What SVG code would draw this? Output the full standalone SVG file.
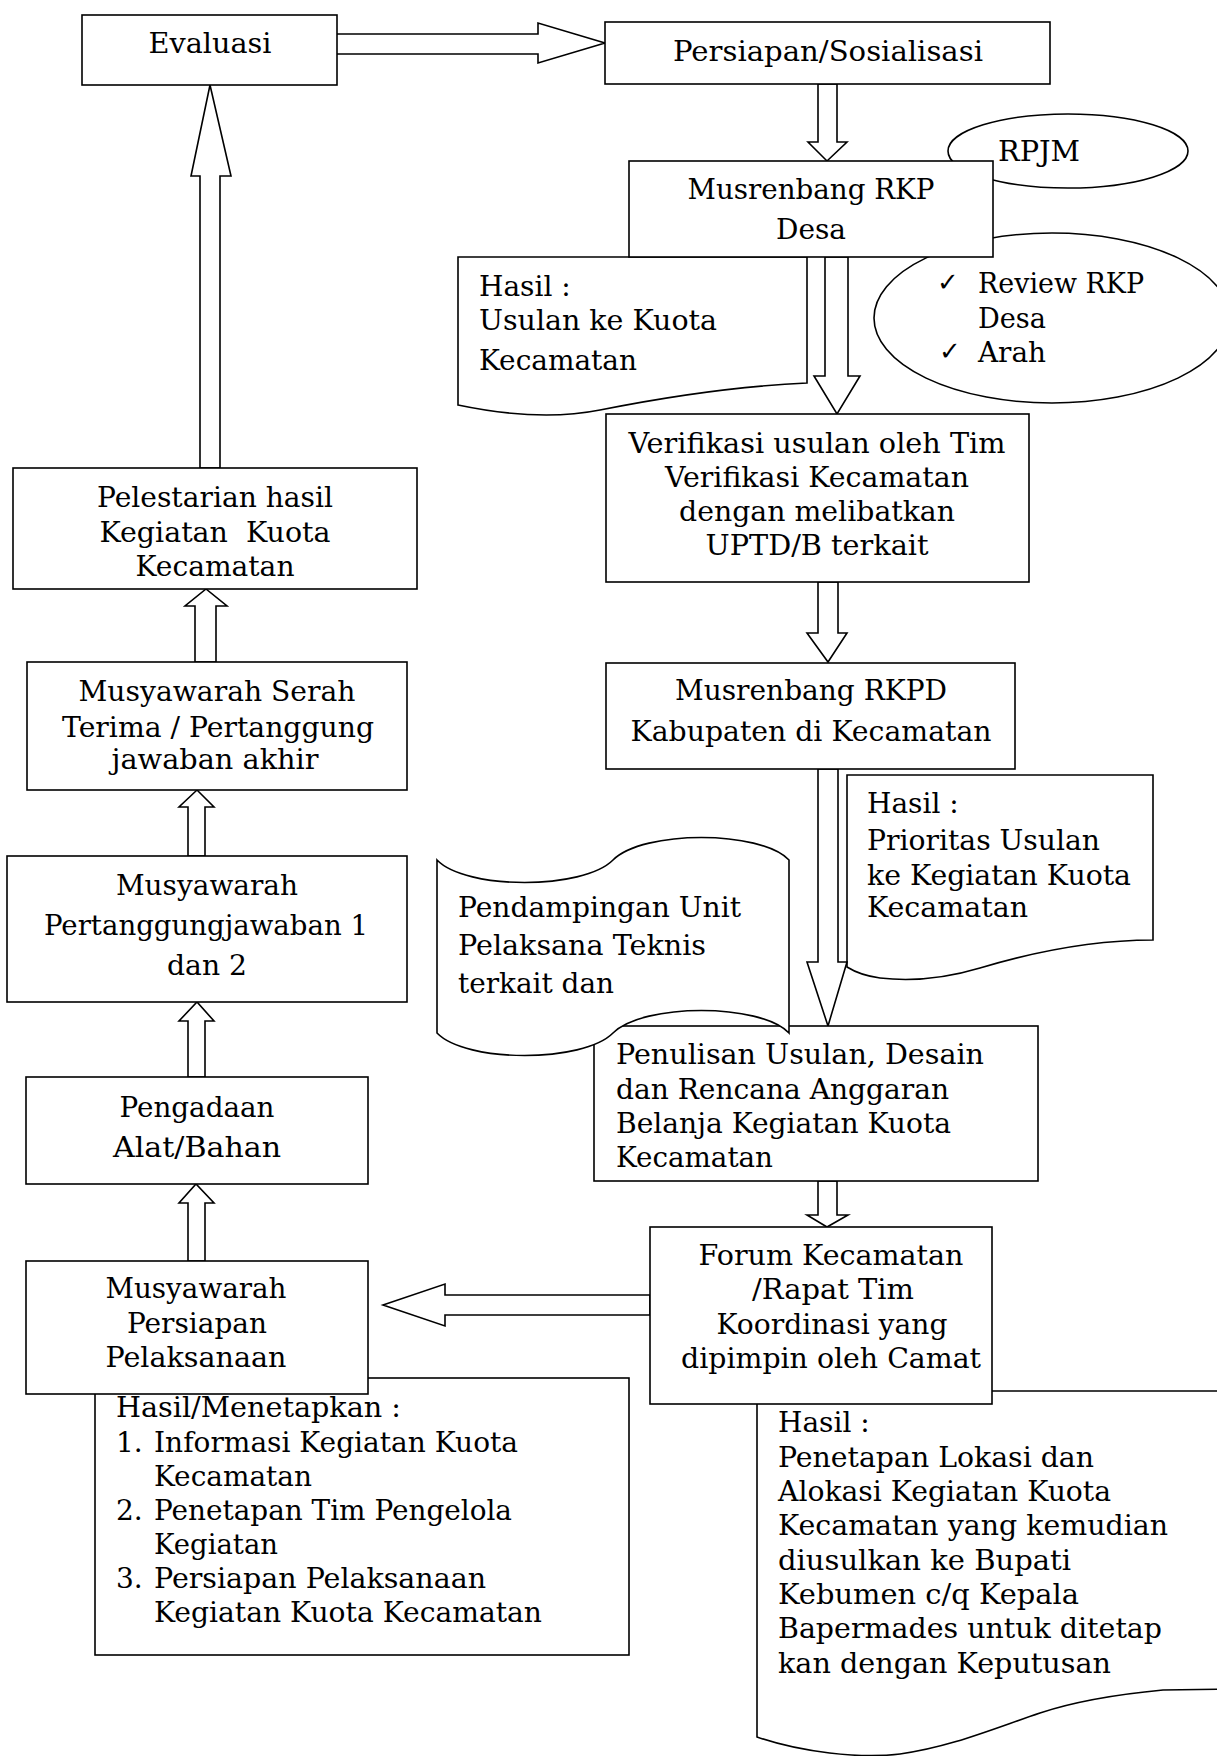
<svg xmlns="http://www.w3.org/2000/svg" width="1217" height="1756" viewBox="0 0 1217 1756">
<style>
.b{fill:#fff;stroke:#000;stroke-width:1.6}
.t{font-family:"DejaVu Serif","Liberation Serif",serif;font-size:28px;fill:#000;white-space:pre}
.c{text-anchor:middle}
.ck{font-family:"DejaVu Sans",sans-serif;font-size:26px;fill:#000}
</style>
<rect x="0" y="0" width="1217" height="1756" fill="#fff"/>

<!-- background shapes -->
<g id="rpjm">
<ellipse class="b" cx="1068" cy="151" rx="120" ry="37"/>
<text class="t" x="998" y="161" textLength="82" lengthAdjust="spacingAndGlyphs">RPJM</text>
</g>
<g id="review">
<ellipse class="b" cx="1052" cy="318" rx="178" ry="85"/>
<text class="ck" x="937" y="291">✓</text>
<text class="t" x="978" y="293" textLength="166" lengthAdjust="spacingAndGlyphs">Review RKP</text>
<text class="t" x="978" y="328" textLength="68" lengthAdjust="spacingAndGlyphs">Desa</text>
<text class="ck" x="939" y="360" font-size="22">✓</text>
<text class="t" x="978" y="362" textLength="68" lengthAdjust="spacingAndGlyphs">Arah</text>
</g>
<g id="hasil-usulan">
<path class="b" d="M458,257 H807 V383 C740,386 660,398 600,410 C565,417 520,418 458,405 Z"/>
<text class="t" x="479" y="296">Hasil :</text>
<text class="t" x="479" y="330" textLength="238" lengthAdjust="spacingAndGlyphs">Usulan ke Kuota</text>
<text class="t" x="479" y="370" textLength="158" lengthAdjust="spacingAndGlyphs">Kecamatan</text>
</g>
<g id="hasil-prioritas">
<path class="b" d="M847,775 H1153 V940 C1100,940 1040,950 980,968 C950,977 915,982 880,978 C865,976 855,972 847,967 Z"/>
<text class="t" x="867" y="813">Hasil :</text>
<text class="t" x="867" y="850" textLength="233" lengthAdjust="spacingAndGlyphs">Prioritas Usulan</text>
<text class="t" x="867" y="885" textLength="264" lengthAdjust="spacingAndGlyphs">ke Kegiatan Kuota</text>
<text class="t" x="867" y="917" textLength="161" lengthAdjust="spacingAndGlyphs">Kecamatan</text>
</g>
<g id="hasil-menetapkan">
<rect class="b" x="95" y="1378" width="534" height="277"/>
<text class="t" x="116" y="1417" textLength="285" lengthAdjust="spacingAndGlyphs">Hasil/Menetapkan :</text>
<text class="t" x="116" y="1452">1.</text>
<text class="t" x="154" y="1452" textLength="364" lengthAdjust="spacingAndGlyphs">Informasi Kegiatan Kuota</text>
<text class="t" x="154" y="1486" textLength="158" lengthAdjust="spacingAndGlyphs">Kecamatan</text>
<text class="t" x="116" y="1520">2.</text>
<text class="t" x="154" y="1520" textLength="358" lengthAdjust="spacingAndGlyphs">Penetapan Tim Pengelola</text>
<text class="t" x="154" y="1554" textLength="124" lengthAdjust="spacingAndGlyphs">Kegiatan</text>
<text class="t" x="116" y="1588">3.</text>
<text class="t" x="154" y="1588" textLength="332" lengthAdjust="spacingAndGlyphs">Persiapan Pelaksanaan</text>
<text class="t" x="154" y="1622" textLength="388" lengthAdjust="spacingAndGlyphs">Kegiatan Kuota Kecamatan</text>
</g>
<g id="hasil-forum">
<path class="b" d="M757,1391 H1235 V1689 L1163,1690 C1110,1695 1070,1703 1040,1713 C990,1730 950,1747 900,1754 C860,1759 800,1752 757,1737 Z"/>
<text class="t" x="778" y="1432">Hasil :</text>
<text class="t" x="778" y="1467" textLength="316" lengthAdjust="spacingAndGlyphs">Penetapan Lokasi dan</text>
<text class="t" x="778" y="1501" textLength="333" lengthAdjust="spacingAndGlyphs">Alokasi Kegiatan Kuota</text>
<text class="t" x="778" y="1535" textLength="390" lengthAdjust="spacingAndGlyphs">Kecamatan yang kemudian</text>
<text class="t" x="778" y="1570" textLength="293" lengthAdjust="spacingAndGlyphs">diusulkan ke Bupati</text>
<text class="t" x="778" y="1604" textLength="301" lengthAdjust="spacingAndGlyphs">Kebumen c/q Kepala</text>
<text class="t" x="778" y="1638" textLength="384" lengthAdjust="spacingAndGlyphs">Bapermades untuk ditetap</text>
<text class="t" x="778" y="1673" textLength="333" lengthAdjust="spacingAndGlyphs">kan dengan Keputusan</text>
</g>

<!-- connectors -->
<g id="connectors">
<polygon class="b" points="336,34 538,34 538,23 605,43 538,63 538,54 336,54"/>
<polygon class="b" points="818,84 837,84 837,142 847,142 827,161 808,142 818,142"/>
<polygon class="b" points="825,257 848,257 848,376 860,376 837,414 814,376 825,376"/>
<polygon class="b" points="818,582 838,582 838,633 847,633 828,662 807,633 818,633"/>
<polygon class="b" points="818,769 838,769 838,962 847,962 828,1026 807,962 818,962"/>
<polygon class="b" points="818,1181 837,1181 837,1215 848,1215 827,1227 807,1215 818,1215"/>
<polygon class="b" points="650,1295 650,1315 445,1315 445,1326 383,1305 445,1284 445,1295"/>
<polygon class="b" points="200,468 200,176 191,176 210,85 231,176 220,176 220,468"/>
<polygon class="b" points="195,662 195,606 185,606 206,589 227,606 216,606 216,662"/>
<polygon class="b" points="188,856 188,807 179,807 197,790 214,807 205,807 205,856"/>
<polygon class="b" points="188,1077 188,1021 179,1021 197,1002 214,1021 205,1021 205,1077"/>
<polygon class="b" points="188,1261 188,1203 179,1203 196,1184 214,1203 205,1203 205,1261"/>
</g>

<!-- nodes -->
<g id="evaluasi">
<rect class="b" x="82" y="15" width="255" height="70"/>
<text class="t c" x="210" y="53" textLength="123" lengthAdjust="spacingAndGlyphs">Evaluasi</text>
</g>
<g id="persiapan">
<rect class="b" x="605" y="22" width="445" height="62"/>
<text class="t c" x="828" y="61" textLength="310" lengthAdjust="spacingAndGlyphs">Persiapan/Sosialisasi</text>
</g>
<g id="musrenbang-rkp">
<rect class="b" x="629" y="161" width="364" height="96"/>
<text class="t c" x="811" y="199" textLength="247" lengthAdjust="spacingAndGlyphs">Musrenbang RKP</text>
<text class="t c" x="811" y="239" textLength="70" lengthAdjust="spacingAndGlyphs">Desa</text>
</g>
<g id="verifikasi">
<rect class="b" x="606" y="414" width="423" height="168"/>
<text class="t c" x="817" y="453" textLength="377" lengthAdjust="spacingAndGlyphs">Verifikasi usulan oleh Tim</text>
<text class="t c" x="817" y="487" textLength="304" lengthAdjust="spacingAndGlyphs">Verifikasi Kecamatan</text>
<text class="t c" x="817" y="521" textLength="276" lengthAdjust="spacingAndGlyphs">dengan melibatkan</text>
<text class="t c" x="817" y="555" textLength="223" lengthAdjust="spacingAndGlyphs">UPTD/B terkait</text>
</g>
<g id="musrenbang-rkpd">
<rect class="b" x="606" y="663" width="409" height="106"/>
<text class="t c" x="811" y="700" textLength="272" lengthAdjust="spacingAndGlyphs">Musrenbang RKPD</text>
<text class="t c" x="811" y="741" textLength="361" lengthAdjust="spacingAndGlyphs">Kabupaten di Kecamatan</text>
</g>
<g id="penulisan">
<rect class="b" x="594" y="1026" width="444" height="155"/>
<text class="t" x="616" y="1064" textLength="368" lengthAdjust="spacingAndGlyphs">Penulisan Usulan, Desain</text>
<text class="t" x="616" y="1099" textLength="333" lengthAdjust="spacingAndGlyphs">dan Rencana Anggaran</text>
<text class="t" x="616" y="1133" textLength="335" lengthAdjust="spacingAndGlyphs">Belanja Kegiatan Kuota</text>
<text class="t" x="616" y="1167" textLength="157" lengthAdjust="spacingAndGlyphs">Kecamatan</text>
</g>
<g id="pendampingan">
<path class="b" d="M437,860 C466,890 583,890 613,860 C643,830 760,830 789,860 V1033 C760,1003 643,1003 613,1033 C583,1063 466,1063 437,1033 Z"/>
<text class="t" x="458" y="917" textLength="283" lengthAdjust="spacingAndGlyphs">Pendampingan Unit</text>
<text class="t" x="458" y="955" textLength="248" lengthAdjust="spacingAndGlyphs">Pelaksana Teknis</text>
<text class="t" x="458" y="993" textLength="156" lengthAdjust="spacingAndGlyphs">terkait dan</text>
</g>
<g id="forum">
<rect class="b" x="650" y="1227" width="342" height="177"/>
<text class="t c" x="831" y="1265" textLength="265" lengthAdjust="spacingAndGlyphs">Forum Kecamatan</text>
<text class="t c" x="833" y="1299" textLength="162" lengthAdjust="spacingAndGlyphs">/Rapat Tim</text>
<text class="t c" x="832" y="1334" textLength="231" lengthAdjust="spacingAndGlyphs">Koordinasi yang</text>
<text class="t c" x="831" y="1368" textLength="300" lengthAdjust="spacingAndGlyphs">dipimpin oleh Camat</text>
</g>
<g id="pelestarian">
<rect class="b" x="13" y="468" width="404" height="121"/>
<text class="t c" x="215" y="507" textLength="236" lengthAdjust="spacingAndGlyphs">Pelestarian hasil</text>
<text class="t c" x="215" y="542" textLength="231" lengthAdjust="spacingAndGlyphs">Kegiatan  Kuota</text>
<text class="t c" x="215" y="576" textLength="159" lengthAdjust="spacingAndGlyphs">Kecamatan</text>
</g>
<g id="serah-terima">
<rect class="b" x="27" y="662" width="380" height="128"/>
<text class="t c" x="217" y="701" textLength="277" lengthAdjust="spacingAndGlyphs">Musyawarah Serah</text>
<text class="t c" x="218" y="737" textLength="312" lengthAdjust="spacingAndGlyphs">Terima / Pertanggung</text>
<text class="t c" x="215" y="769" textLength="207" lengthAdjust="spacingAndGlyphs">jawaban akhir</text>
</g>
<g id="pertanggungjawaban">
<rect class="b" x="7" y="856" width="400" height="146"/>
<text class="t c" x="207" y="895" textLength="182" lengthAdjust="spacingAndGlyphs">Musyawarah</text>
<text class="t c" x="206" y="935" textLength="324" lengthAdjust="spacingAndGlyphs">Pertanggungjawaban 1</text>
<text class="t c" x="207" y="975" textLength="80" lengthAdjust="spacingAndGlyphs">dan 2</text>
</g>
<g id="pengadaan">
<rect class="b" x="26" y="1077" width="342" height="107"/>
<text class="t c" x="197" y="1117" textLength="155" lengthAdjust="spacingAndGlyphs">Pengadaan</text>
<text class="t c" x="197" y="1157" textLength="168" lengthAdjust="spacingAndGlyphs">Alat/Bahan</text>
</g>
<g id="persiapan-pelaksanaan">
<rect class="b" x="26" y="1261" width="342" height="133"/>
<text class="t c" x="196" y="1298" textLength="181" lengthAdjust="spacingAndGlyphs">Musyawarah</text>
<text class="t c" x="197" y="1333" textLength="140" lengthAdjust="spacingAndGlyphs">Persiapan</text>
<text class="t c" x="196" y="1367" textLength="181" lengthAdjust="spacingAndGlyphs">Pelaksanaan</text>
</g>
</svg>
